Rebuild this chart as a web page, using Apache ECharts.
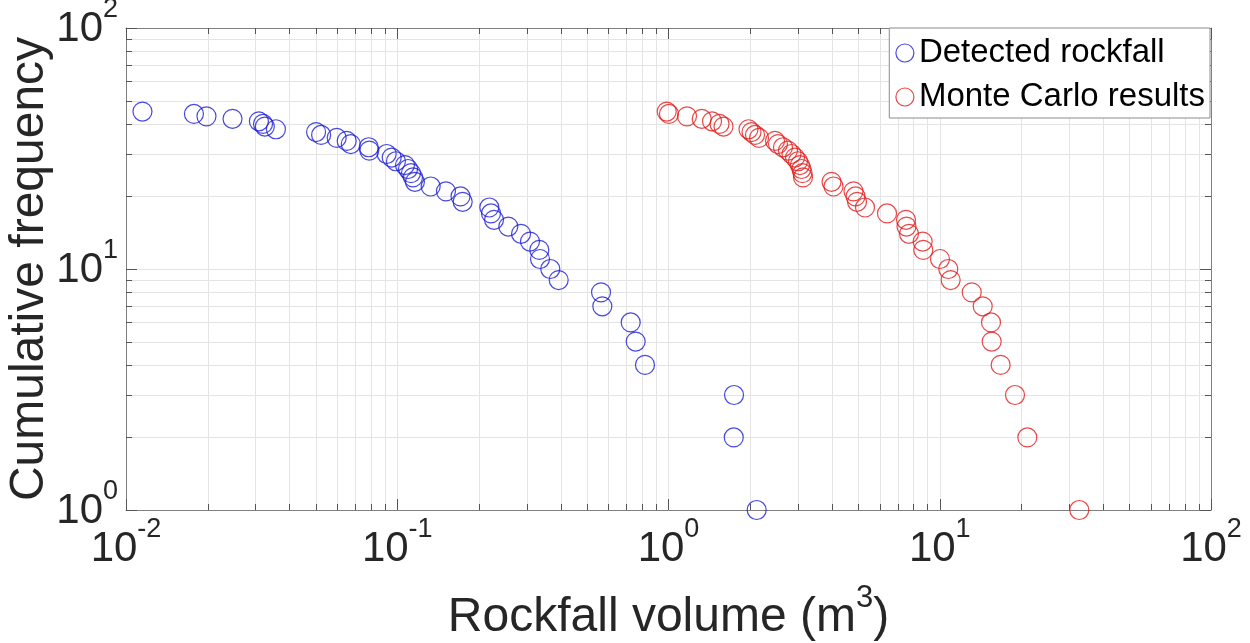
<!DOCTYPE html>
<html>
<head>
<meta charset="utf-8">
<script src="https://cdn.jsdelivr.net/npm/echarts@6/dist/echarts.min.js"></script>
<style>
  html, body { margin: 0; padding: 0; background: #fff; }
  #chart { width: 1250px; height: 643px; }
</style>
</head>
<body>
<div id="chart"></div>
<script>
// Rockfall volumes (m^3) and their cumulative frequencies
const detectedVolume = [
  0.0115, 0.0178, 0.0198, 0.0247, 0.0309, 0.0320, 0.0325, 0.0357, 0.0502,
  0.0524, 0.0598, 0.0651, 0.0674, 0.0785, 0.0789, 0.0914, 0.0954, 0.0989,
  0.1068, 0.1096, 0.1124, 0.1143, 0.1162, 0.1328, 0.1512, 0.1711, 0.1743,
  0.2185, 0.2216, 0.2274, 0.2567, 0.2860, 0.3086, 0.3340, 0.3360, 0.3666,
  0.3937, 0.5640, 0.5702, 0.7255, 0.7568, 0.8190, 1.744, 1.740, 2.114
];
const detectedFreq = [
  45, 44, 43, 42, 41, 40, 39, 38, 37, 36, 35, 34, 33, 32, 31, 30, 29, 28,
  27, 26, 25, 24, 23, 22, 21, 20, 19, 18, 17, 16, 15, 14, 13, 12, 11, 10,
  9, 8, 7, 6, 5, 4, 3, 2, 1
];
const monteCarloVolume = [
  0.985, 1.004, 1.170, 1.326, 1.447, 1.542, 1.595, 1.972, 2.023, 2.084,
  2.156, 2.470, 2.533, 2.643, 2.757, 2.841, 2.927, 3.002, 3.053, 3.092,
  3.119, 3.132, 3.990, 4.058, 4.809, 4.892, 4.955, 5.302, 6.391, 7.508,
  7.541, 7.702, 8.651, 8.695, 10.02, 10.75, 10.97, 13.12, 14.40, 15.45,
  15.54, 16.77, 18.94, 21.03, 32.69
];
const monteCarloFreq = [
  45, 44, 43, 42, 41, 40, 39, 38, 37, 36, 35, 34, 33, 32, 31, 30, 29, 28,
  27, 26, 25, 24, 23, 22, 21, 20, 19, 18, 17, 16, 15, 14, 13, 12, 11, 10,
  9, 8, 7, 6, 5, 4, 3, 2, 1
];
const seriesNames = ['Detected rockfall', 'Monte Carlo results'];
const xDecades = [-2, -1, 0, 1, 2];
const yDecades = [0, 1, 2];

// minor grid values 2..9 within each decade
function minorValues(decades) {
  const out = [];
  for (let i = 0; i < decades.length - 1; i++) {
    for (let m = 2; m <= 9; m++) out.push(+(m * Math.pow(10, decades[i])).toPrecision(3));
  }
  return out;
}
const xMinor = minorValues(xDecades);
const yMinor = minorValues(yDecades);

const FONT = '"Liberation Sans", Arial, sans-serif';
const TEXT = '#262626';
const AXIS = '#808080';
const TICK = '#555';
const GRIDLINE = '#e4e4e4';
const BLUE = '#1a1ad8';
const RED = '#e31a1a';

// "10" with a raised exponent
const tickRich = {
  b: { fontSize: 42, fontFamily: FONT, color: TEXT, verticalAlign: 'bottom', lineHeight: 44 },
  s: { fontSize: 27, fontFamily: FONT, color: TEXT, verticalAlign: 'bottom', lineHeight: 29, padding: [0, 0, 27, 0] }
};
function powLabel(v) {
  const e = Math.round(Math.log10(v));
  return '{b|10}{s|' + e + '}';
}

function pairs(xs, ys) { return xs.map((x, i) => [x, ys[i]]); }
function crisp(v) { return Math.round(v) + 0.5; }

const chart = echarts.init(document.getElementById('chart'), null, { renderer: 'canvas' });

chart.setOption({
  animation: false,
  backgroundColor: '#fff',
  grid: { left: 126, right: 39, top: 28, bottom: 133, show: false, containLabel: false, outerBoundsMode: 'none' },
  legend: {
    data: seriesNames.map((n, i) => ({
      name: n,
      icon: 'circle',
      itemStyle: { color: 'transparent', borderColor: i ? RED : BLUE, borderWidth: 1.2 }
    })),
    orient: 'vertical',
    right: 40,
    top: 28,
    itemWidth: 18,
    itemHeight: 18,
    itemGap: 6,
    itemTextGap: 5,
    padding: [6, 5, 2, 6],
    backgroundColor: '#fff',
    borderColor: '#8c8c8c',
    borderWidth: 1,
    borderRadius: 0,
    textStyle: { fontSize: 33, fontFamily: FONT, color: '#000', lineHeight: 38 },
    z: 10
  },
  xAxis: [
    {
      type: 'log', logBase: 10, min: 0.01, max: 100, position: 'bottom',
      name: '{n|Rockfall volume (m}{s|3}{n|)}',
      nameLocation: 'middle', nameGap: 82, nameMoveOverlap: false,
      nameTextStyle: {
        rich: {
          n: { fontSize: 48, fontFamily: FONT, color: TEXT, verticalAlign: 'bottom', lineHeight: 50 },
          s: { fontSize: 31, fontFamily: FONT, color: TEXT, verticalAlign: 'bottom', lineHeight: 32, padding: [0, 0, 28, 0] }
        }
      },
      axisLine: { show: true, lineStyle: { color: AXIS, width: 1 } },
      axisTick: { show: true, inside: true, length: 11, lineStyle: { color: TICK } },
      minorTick: { show: false },
      splitLine: { show: true, lineStyle: { color: GRIDLINE, width: 1 } },
      axisLabel: { formatter: powLabel, rich: tickRich, margin: 16 }
    },
    {
      type: 'log', logBase: 10, min: 0.01, max: 100, position: 'top',
      axisLine: { show: true, lineStyle: { color: AXIS, width: 1 } },
      axisTick: { show: true, inside: true, length: 11, lineStyle: { color: TICK } },
      axisLabel: { show: false },
      splitLine: { show: false }
    }
  ],
  yAxis: [
    {
      type: 'log', logBase: 10, min: 1, max: 100, position: 'left',
      name: 'Cumulative frequency',
      nameLocation: 'middle', nameGap: 72, nameMoveOverlap: false,
      nameTextStyle: { fontSize: 48, fontFamily: FONT, color: TEXT },
      axisLine: { show: true, lineStyle: { color: AXIS, width: 1 } },
      axisTick: { show: true, inside: true, length: 11, lineStyle: { color: TICK } },
      splitLine: { show: true, lineStyle: { color: GRIDLINE, width: 1 } },
      axisLabel: { formatter: powLabel, rich: tickRich, margin: 8 }
    },
    {
      type: 'log', logBase: 10, min: 1, max: 100, position: 'right',
      axisLine: { show: true, lineStyle: { color: AXIS, width: 1 } },
      axisTick: { show: true, inside: true, length: 11, lineStyle: { color: TICK } },
      axisLabel: { show: false },
      splitLine: { show: false }
    }
  ],
  series: [
    {
      // minor vertical grid lines with short ticks on the bottom and top edges
      type: 'custom', silent: true, z: 1,
      xAxisIndex: 0, yAxisIndex: 0,
      data: xMinor.map(v => [v, 1]),
      renderItem(params, api) {
        const cs = params.coordSys;
        const x = crisp(api.coord([api.value(0), 1])[0]);
        const top = cs.y, bot = cs.y + cs.height;
        return {
          type: 'group',
          children: [
            { type: 'line', shape: { x1: x, y1: top, x2: x, y2: bot }, style: { stroke: GRIDLINE, lineWidth: 1 } },
            { type: 'line', shape: { x1: x, y1: bot, x2: x, y2: bot - 6 }, style: { stroke: TICK, lineWidth: 1 } },
            { type: 'line', shape: { x1: x, y1: top, x2: x, y2: top + 6 }, style: { stroke: TICK, lineWidth: 1 } }
          ]
        };
      }
    },
    {
      // minor horizontal grid lines with short ticks on the left and right edges
      type: 'custom', silent: true, z: 1,
      xAxisIndex: 0, yAxisIndex: 0,
      data: yMinor.map(v => [0.01, v]),
      renderItem(params, api) {
        const cs = params.coordSys;
        const y = crisp(api.coord([0.01, api.value(1)])[1]);
        const left = cs.x, right = cs.x + cs.width;
        return {
          type: 'group',
          children: [
            { type: 'line', shape: { x1: left, y1: y, x2: right, y2: y }, style: { stroke: GRIDLINE, lineWidth: 1 } },
            { type: 'line', shape: { x1: left, y1: y, x2: left + 6, y2: y }, style: { stroke: TICK, lineWidth: 1 } },
            { type: 'line', shape: { x1: right, y1: y, x2: right - 6, y2: y }, style: { stroke: TICK, lineWidth: 1 } }
          ]
        };
      }
    },
    {
      name: seriesNames[0], type: 'scatter', z: 5,
      symbol: 'circle', symbolSize: 19,
      itemStyle: { color: 'transparent', borderColor: BLUE, borderWidth: 1.2 },
      data: pairs(detectedVolume, detectedFreq)
    },
    {
      name: seriesNames[1], type: 'scatter', z: 5,
      symbol: 'circle', symbolSize: 19,
      itemStyle: { color: 'transparent', borderColor: RED, borderWidth: 1.2 },
      data: pairs(monteCarloVolume, monteCarloFreq)
    }
  ]
});
</script>
</body>
</html>
